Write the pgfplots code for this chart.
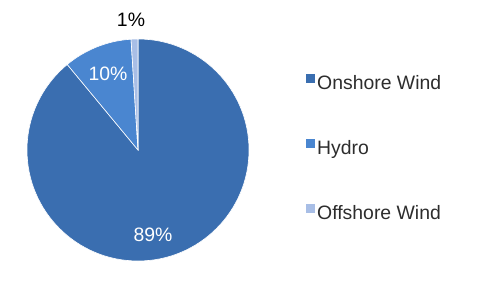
\documentclass[border=0pt]{standalone}
\usepackage{pgfplots}
\pgfplotsset{compat=1.18}
\usepackage{fontspec}
\setmainfont{Liberation Sans}
\definecolor{onshore}{RGB}{58,110,176}
\definecolor{hydro}{RGB}{74,134,208}
\definecolor{offshore}{RGB}{168,190,230}
\definecolor{legtext}{RGB}{45,45,45}
% data (percent)
\def\vOnshore{89}
\def\vHydro{10}
\def\vOffshore{1}
\pgfmathsetmacro{\aA}{90}
\pgfmathsetmacro{\aB}{\aA-3.6*\vOnshore}
\pgfmathsetmacro{\aC}{\aB-3.6*\vHydro}
\pgfmathsetmacro{\aD}{\aC-3.6*\vOffshore}
\begin{document}
\begin{tikzpicture}
\begin{axis}[
  scale only axis, width=500pt, height=300pt,
  xmin=0, xmax=500, ymin=0, ymax=300,
  hide axis, clip=false,
  legend cell align=left,
  legend image code/.code={\path[#1] (0pt,0pt) rectangle (9pt,9pt);},
  legend style={draw=none, fill=none, at={(axis cs:303,229)}, anchor=north west,
    font=\fontsize{19.4}{22}\selectfont, text=legtext, row sep=45.5pt,
    /tikz/every even column/.append style={column sep=1pt}},
]
\fill[onshore, draw=white, line width=0.6pt] (axis cs:138,150) -- ++(\aA:111pt) arc[start angle=\aA, end angle=\aB, radius=111pt] -- cycle;
\fill[hydro, draw=white, line width=0.6pt] (axis cs:138,150) -- ++(\aB:111pt) arc[start angle=\aB, end angle=\aC, radius=111pt] -- cycle;
\fill[offshore, draw=white, line width=0.6pt] (axis cs:138,150) -- ++(\aC:111pt) arc[start angle=\aC, end angle=\aD, radius=111pt] -- cycle;
\addlegendimage{fill=onshore, draw=none}
\addlegendentry{Onshore Wind}
\addlegendimage{fill=hydro, draw=none}
\addlegendentry{Hydro}
\addlegendimage{fill=offshore, draw=none}
\addlegendentry{Offshore Wind}
\node[font=\fontsize{19.4}{22}\selectfont, text=black] at (axis cs:131,280) {\vOffshore\%};
\node[font=\fontsize{19.4}{22}\selectfont, text=white] at (axis cs:108,226) {\vHydro\%};
\node[font=\fontsize{19.4}{22}\selectfont, text=white] at (axis cs:153,65) {\vOnshore\%};
\end{axis}
\pgfresetboundingbox
\path[use as bounding box] (current axis.south west) rectangle (current axis.north east);
\end{tikzpicture}
\end{document}
